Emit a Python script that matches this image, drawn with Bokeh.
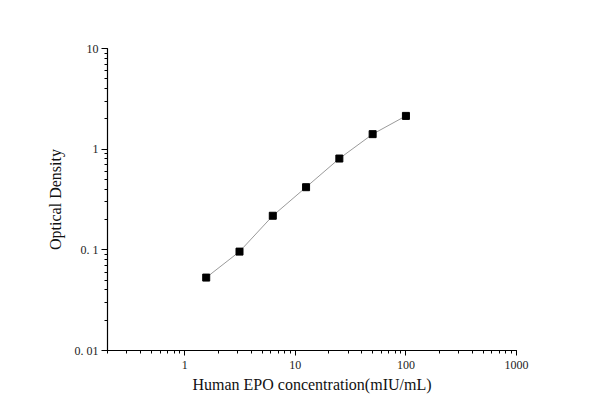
from bokeh.plotting import figure
from bokeh.models import Range1d, LogTicker
from bokeh.embed import file_html
from bokeh.resources import INLINE

# standard curve
concentration = [1.5625, 3.125, 6.25, 12.5, 25, 50, 100]
optical_density = [0.053, 0.096, 0.218, 0.419, 0.807, 1.41, 2.14]

x_label = "Human EPO concentration(mIU/mL)"
y_label = "Optical Density"
x_tick_labels = {1: "1", 10: "10", 100: "100", 1000: "1000"}
y_tick_labels = {0.01: "0. 01", 0.1: "0. 1", 1: "1", 10: "10"}

FONT = "Liberation Serif"

p = figure(width=592, height=411, x_axis_type="log", y_axis_type="log",
           x_range=Range1d(0.2, 1000), y_range=Range1d(0.01, 10),
           output_backend="svg", toolbar_location=None,
           min_border_left=107, min_border_right=76,
           min_border_top=48, min_border_bottom=61)
p.outline_line_color = None
p.xgrid.grid_line_color = None
p.ygrid.grid_line_color = None
p.background_fill_color = "white"
p.border_fill_color = "white"

p.line(concentration, optical_density, line_color="#808080", line_width=0.8)
p.scatter(concentration, optical_density, marker="square", size=7,
          fill_color="black", line_color="black")

p.xaxis.ticker = LogTicker(num_minor_ticks=10)
p.yaxis.ticker = LogTicker(num_minor_ticks=10)
p.xaxis.major_label_overrides = x_tick_labels
p.yaxis.major_label_overrides = y_tick_labels
p.xaxis.axis_label = x_label
p.yaxis.axis_label = y_label

for ax in (p.xaxis[0], p.yaxis[0]):
    ax.axis_line_color = "black"
    ax.axis_line_width = 1.2
    ax.major_tick_line_color = "black"
    ax.minor_tick_line_color = "black"
    ax.major_tick_in = 0
    ax.minor_tick_in = 0
    ax.major_label_text_font = FONT
    ax.major_label_text_font_size = "12px"
    ax.major_label_text_color = "#222222"
    ax.axis_label_text_font = FONT
    ax.axis_label_text_font_size = "16px"
    ax.axis_label_text_font_style = "normal"
    ax.axis_label_text_color = "#111111"

p.xaxis.major_tick_out = 5
p.xaxis.minor_tick_out = 3
p.xaxis.major_label_standoff = 5
p.xaxis.axis_label_standoff = 4
p.yaxis.major_tick_out = 6
p.yaxis.minor_tick_out = 3
p.yaxis.major_label_standoff = 3
p.yaxis.axis_label_standoff = 8

open("out.html", "w").write(file_html(p, INLINE))
